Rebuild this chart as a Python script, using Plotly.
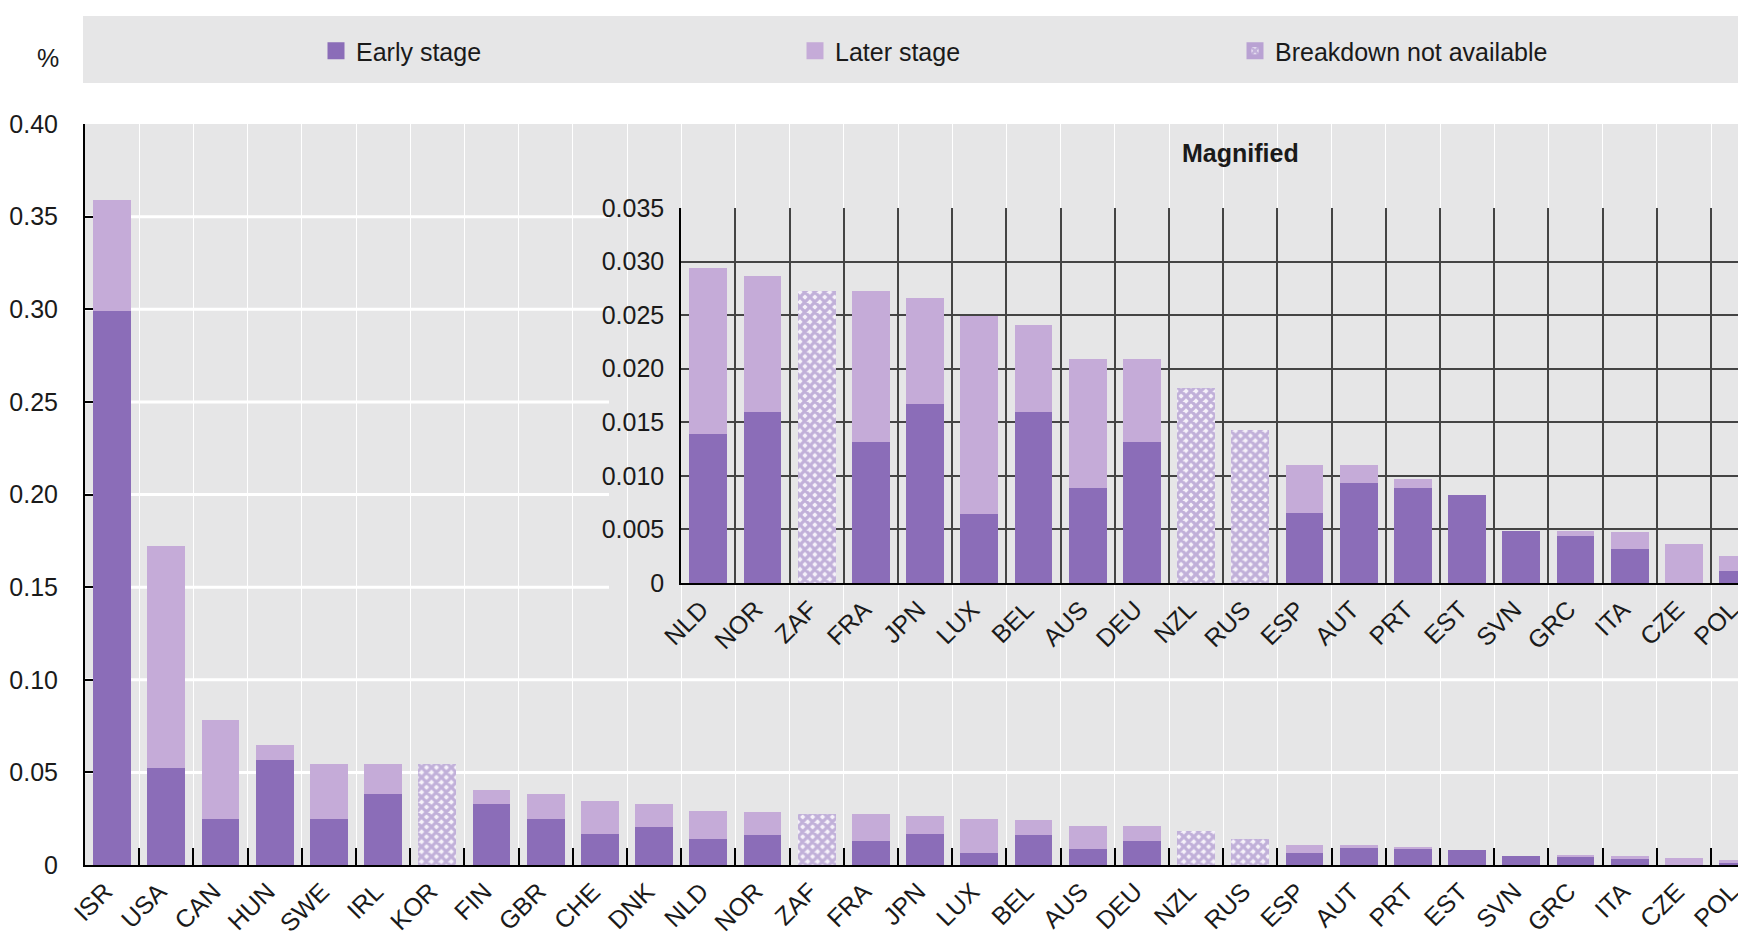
import plotly.graph_objects as go

# ---------------- data ----------------
countries = ["ISR", "USA", "CAN", "HUN", "SWE", "IRL", "KOR", "FIN", "GBR", "CHE", "DNK",
             "NLD", "NOR", "ZAF", "FRA", "JPN", "LUX", "BEL", "AUS", "DEU", "NZL", "RUS",
             "ESP", "AUT", "PRT", "EST", "SVN", "GRC", "ITA", "CZE", "POL"]
early_stage = [0.299, 0.0526, 0.0246, 0.0568, 0.0246, 0.0384, None, 0.0328, 0.0246, 0.0165, 0.0207,
               0.0139, 0.0160, None, 0.0132, 0.0167, 0.0064, 0.0160, 0.0089, 0.0132, None, None,
               0.0065, 0.0093, 0.0089, 0.0082, 0.0049, 0.0044, 0.0032, 0.0, 0.0011]
later_stage = [0.060, 0.1194, 0.0538, 0.0079, 0.0298, 0.0160, None, 0.0079, 0.0138, 0.0181, 0.0121,
               0.0155, 0.0127, None, 0.0141, 0.0099, 0.0185, 0.0081, 0.0120, 0.0077, None, None,
               0.0045, 0.0017, 0.0008, 0.0, 0.0, 0.0005, 0.0016, 0.0036, 0.0014]
breakdown_na = [None, None, None, None, None, None, 0.0544, None, None, None, None,
                None, None, 0.0273, None, None, None, None, None, None, 0.0182, 0.0143,
                None, None, None, None, None, None, None, None, None]
main_ticks = [0, 0.05, 0.10, 0.15, 0.20, 0.25, 0.30, 0.35, 0.40]
main_ticktext = ["0", "0.05", "0.10", "0.15", "0.20", "0.25", "0.30", "0.35", "0.40"]
inset_ticks = [0, 0.005, 0.010, 0.015, 0.020, 0.025, 0.030, 0.035]
inset_ticktext = ["0", "0.005", "0.010", "0.015", "0.020", "0.025", "0.030", "0.035"]
inset_first = "NLD"
series_names = ["Early stage", "Later stage", "Breakdown not available"]

# ---------------- style ----------------
EARLY = "#8b6db8"
LATER = "#c5abd8"
HATCH_BG = "#f6f2fa"
HATCH_MIX = "#b9a2d3"
BG = "#e6e6e7"
FONT = "Liberation Sans Narrow, Arial Narrow, Liberation Sans, Arial, sans-serif"
TXT = "#1a1a1a"
FS = 25

W, H = 1746, 951
L, R, T, B = 77, 0, 116, 94
plot_w = W - L - R
plot_h = H - T - B
cat_px = 54.2
main_range = [-0.5, -0.5 + plot_w / cat_px]

i0 = countries.index(inset_first)
inset_left_px = L + i0 * cat_px
inset_dx = [(inset_left_px - L) / plot_w, 1.0]
inset_range = [-0.5, -0.5 + (W - inset_left_px) / cat_px]
inset_top_px, inset_bot_px = 200, 575
inset_dy = [(H - B - inset_bot_px) / plot_h, (H - B - inset_top_px) / plot_h]

ic = countries[i0:]
ie = early_stage[i0:]
il = later_stage[i0:]
ina = breakdown_na[i0:]

pattern = dict(shape="x", fgcolor=EARLY, size=7, solidity=0.72, fillmode="overlay")

fig = go.Figure()

def add_set(xs, e, l, na, xa, ya):
    fig.add_trace(go.Bar(x=xs, y=e, name=series_names[0], marker=dict(color=EARLY, line=dict(width=0)),
                         xaxis=xa, yaxis=ya, showlegend=False))
    fig.add_trace(go.Bar(x=xs, y=l, name=series_names[1], marker=dict(color=LATER, line=dict(width=0)),
                         xaxis=xa, yaxis=ya, showlegend=False))
    fig.add_trace(go.Bar(x=xs, y=na, name=series_names[2],
                         marker=dict(color=HATCH_BG, line=dict(width=0), pattern=pattern),
                         xaxis=xa, yaxis=ya, showlegend=False))

add_set(countries, early_stage, later_stage, breakdown_na, "x", "y")
add_set(ic, ie, il, ina, "x2", "y2")

# legend entries (empty bar traces with thick outline for a bigger swatch)
fig.add_trace(go.Bar(x=[None], y=[None], name=series_names[0], legend="legend",
                     marker=dict(color=EARLY, line=dict(color=EARLY, width=5))))
fig.add_trace(go.Bar(x=[None], y=[None], name=series_names[1], legend="legend2",
                     marker=dict(color=LATER, line=dict(color=LATER, width=5))))
fig.add_trace(go.Bar(x=[None], y=[None], name=series_names[2], legend="legend3",
                     marker=dict(color=HATCH_BG, line=dict(color=HATCH_MIX, width=5), pattern=pattern)))

shapes = []
# legend band
shapes.append(dict(type="rect", xref="paper", yref="paper", x0=(75 - L) / plot_w, x1=1,
                   y0=(H - B - 75) / plot_h, y1=(H - B - 8) / plot_h,
                   fillcolor=BG, line=dict(width=0), layer="below"))
# main horizontal grid lines
for v in main_ticks[1:-1]:
    shapes.append(dict(type="line", xref="x domain", yref="y", x0=0, x1=1, y0=v, y1=v,
                       line=dict(color="white", width=3), layer="below"))
# panel behind the inset
shapes.append(dict(type="rect", xref="x domain", yref="y", x0=(601 - L) / plot_w, x1=1,
                   y0=0.105, y1=0.40, fillcolor=BG, line=dict(width=0), layer="below"))
# white inset background
shapes.append(dict(type="rect", xref="x2 domain", yref="y2 domain", x0=0, x1=1, y0=0, y1=1,
                   fillcolor="white", line=dict(width=0), layer="below"))

tickfont = dict(family=FONT, size=FS, color=TXT)

fig.update_layout(
    width=W, height=H,
    margin=dict(l=L, r=R, t=T, b=B, autoexpand=False),
    paper_bgcolor="white", plot_bgcolor=BG,
    barmode="stack", bargap=0.3,
    font=dict(family=FONT, size=FS, color=TXT),
    shapes=shapes,
    xaxis=dict(type="category", categoryorder="array", categoryarray=countries,
               range=main_range, domain=[0, 1], anchor="y",
               showgrid=True, gridcolor="white", gridwidth=1, tickson="boundaries",
               ticks="inside", ticklen=17, tickwidth=2, tickcolor="black",
               showline=True, linecolor="black", linewidth=2,
               tickangle=-45, tickfont=tickfont, ticklabelshift=-7, automargin=False),
    yaxis=dict(range=[0, 0.40], tickvals=main_ticks, ticktext=main_ticktext,
               showgrid=False, zeroline=False, ticks="inside", ticklen=8, tickwidth=2,
               tickcolor="black", showline=True, linecolor="black", linewidth=2,
               tickfont=tickfont, ticklabelstandoff=20, domain=[0, 1], anchor="x",
               automargin=False),
    xaxis2=dict(type="category", categoryorder="array", categoryarray=ic,
                range=inset_range, domain=inset_dx, anchor="y2",
                showgrid=True, gridcolor="#444444", gridwidth=2, tickson="boundaries",
                ticks="", showline=True, linecolor="black", linewidth=2,
                tickangle=-45, tickfont=tickfont, ticklabelshift=-7, automargin=False),
    yaxis2=dict(range=[0, 0.035], tickvals=inset_ticks, ticktext=inset_ticktext,
                domain=inset_dy, anchor="x2",
                showgrid=True, gridcolor="#444444", gridwidth=2, zeroline=False,
                ticks="", showline=True, linecolor="black", linewidth=2,
                tickfont=tickfont, ticklabelstandoff=10, automargin=False),
    annotations=[
        dict(text="<b>Magnified</b>", xref="paper", yref="paper",
             x=(1232 - L) / plot_w, y=(H - B - 145) / plot_h, showarrow=False,
             xanchor="center", yanchor="middle",
             font=dict(family=FONT, size=FS, color=TXT)),
        dict(text="%", xref="paper", yref="paper",
             x=(40 - L) / plot_w, y=(H - B - 50) / plot_h, showarrow=False,
             xanchor="center", yanchor="middle",
             font=dict(family=FONT, size=FS, color=TXT)),
    ],
)

leg_y = (H - B - 43) / plot_h
for key, px in (("legend", 308), ("legend2", 787), ("legend3", 1227)):
    fig.update_layout({key: dict(x=(px - L) / plot_w, y=leg_y, xanchor="left", yanchor="middle",
                                 orientation="h", bgcolor="rgba(0,0,0,0)",
                                 font=dict(family=FONT, size=FS, color=TXT))})

fig.write_html("out.html")
